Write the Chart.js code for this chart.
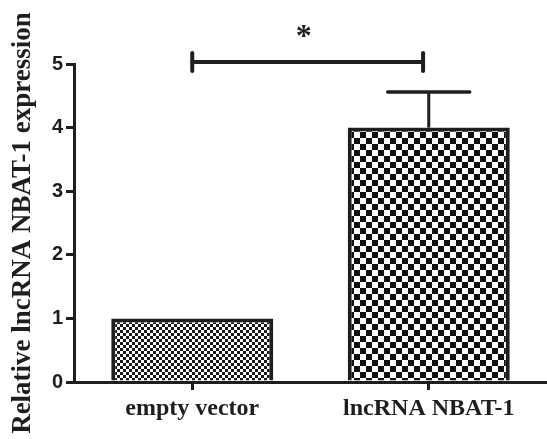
<!DOCTYPE html>
<html>
<head>
<meta charset="utf-8">
<script src="https://cdn.jsdelivr.net/npm/chart.js@4"></script>
<style>
  html, body { margin: 0; padding: 0; background: #fff; }
  #wrap { width: 547px; height: 439px; }
</style>
</head>
<body>
<div id="wrap"><canvas id="c" width="547" height="439"></canvas></div>
<script>
// ---- data ----
const categories = ['empty vector', 'lncRNA NBAT-1'];
const means = [1.0, 4.0];
const errors = [0.0, 0.56];
const yTicks = [0, 1, 2, 3, 4, 5];
const yTitle = 'Relative lncRNA NBAT-1 expression';
const sigLabel = '*';
const sigLevel = 5.03;

// ---- patterns ----
function checker(size, dark) {
  const c = document.createElement('canvas');
  c.width = size * 2; c.height = size * 2;
  const g = c.getContext('2d');
  g.fillStyle = '#fff'; g.fillRect(0, 0, size * 2, size * 2);
  g.fillStyle = dark;
  g.fillRect(0, 0, size, size);
  g.fillRect(size, size, size, size);
  return g.createPattern(c, 'repeat');
}
const ctx = document.getElementById('c').getContext('2d');
const patterns = [checker(3, '#1a1a1a'), checker(6, '#111')];
const ink = '#1e1e1e';

const annot = {
  id: 'annot',
  afterDatasetsDraw(chart) {
    const g = chart.ctx;
    const meta = chart.getDatasetMeta(0);
    const y = chart.scales.y;
    g.save();
    g.strokeStyle = ink;
    meta.data.forEach((bar, i) => {
      const e = errors[i];
      if (!e) return;
      const base = y.getPixelForValue(means[i]);
      const top = y.getPixelForValue(means[i] + e);
      const half = bar.width * 0.253;
      g.lineWidth = 3; g.lineCap = 'butt';
      g.beginPath(); g.moveTo(bar.x, base); g.lineTo(bar.x, top); g.stroke();
      g.lineWidth = 3.5; g.lineCap = 'round';
      g.beginPath(); g.moveTo(bar.x - half, top); g.lineTo(bar.x + half, top); g.stroke();
    });
    // significance bracket
    const b0 = meta.data[0], b1 = meta.data[1];
    const x1 = b0.x, x2 = b1.x - b1.width * 0.035;
    const yy = y.getPixelForValue(sigLevel);
    g.lineWidth = 4; g.lineCap = 'round';
    g.beginPath(); g.moveTo(x1, yy); g.lineTo(x2, yy); g.stroke();
    g.beginPath(); g.moveTo(x1, yy - 9); g.lineTo(x1, yy + 9); g.stroke();
    g.beginPath(); g.moveTo(x2, yy - 9); g.lineTo(x2, yy + 9); g.stroke();
    g.fillStyle = ink;
    g.font = 'bold 32px "Liberation Serif"';
    g.textAlign = 'center'; g.textBaseline = 'alphabetic';
    g.fillText(sigLabel, (x1 + x2) / 2 - 4, yy - 16);
    g.restore();
  }
};

new Chart(ctx, {
  type: 'bar',
  data: {
    labels: categories,
    datasets: [{
      data: means,
      backgroundColor: patterns,
      borderColor: ink,
      borderWidth: 4,
      borderSkipped: 'start',
      categoryPercentage: 1.0,
      barPercentage: 0.685
    }]
  },
  options: {
    responsive: false,
    devicePixelRatio: 1,
    animation: false,
    layout: { padding: { top: 64, right: 0, bottom: 0, left: 0 } },
    plugins: { legend: { display: false }, tooltip: { enabled: false } },
    scales: {
      x: {
        offset: true,
        grid: { display: true, drawOnChartArea: false, drawTicks: true, tickLength: 8, lineWidth: 3, color: ink, offset: false },
        border: { display: true, width: 3, color: ink },
        ticks: { color: ink, padding: 4, font: { family: '"Liberation Serif"', weight: 'bold', size: 24 } },
        afterFit(s) { s.height = 57; }
      },
      y: {
        min: 0, max: 5,
        afterBuildTicks(s) { s.ticks = yTicks.map(v => ({ value: v })); },
        grid: { display: true, drawOnChartArea: false, drawTicks: true, tickLength: 8, lineWidth: 3, color: ink },
        border: { display: true, width: 3, color: ink },
        ticks: { color: ink, padding: 3, font: { family: '"Liberation Sans"', weight: 'bold', size: 20 } },
        title: { display: true, text: yTitle, color: ink, padding: { top: 7, bottom: 0 }, font: { family: '"Liberation Serif"', weight: 'bold', size: 27 } },
        afterFit(s) { s.width = 74; }
      }
    }
  },
  plugins: [annot]
});
</script>
</body>
</html>
